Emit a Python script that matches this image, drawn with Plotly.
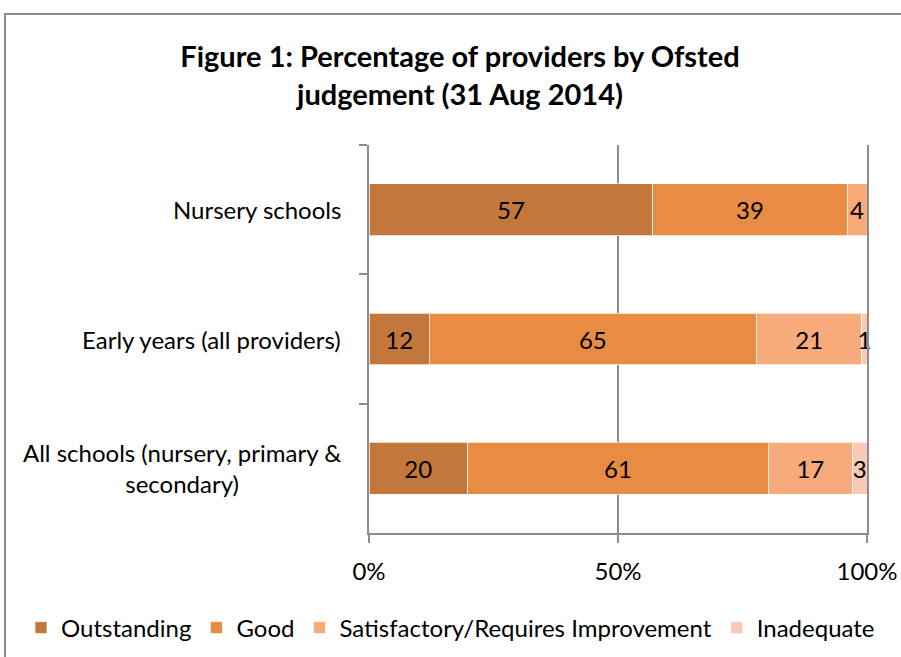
import plotly.graph_objects as go

categories = ["Nursery schools", "Early years (all providers)", "All schools (nursery, primary &<br>secondary)"]
series_names = ["Outstanding", "Good", "Satisfactory/Requires Improvement", "Inadequate"]
outstanding = [57, 12, 20]
good = [39, 65, 61]
satisfactory = [4, 21, 17]
inadequate = [0, 1, 3]
colors = ["#C4773A", "#E88C44", "#F7AA7A", "#F8CAB3"]
x_tick_vals = [0, 50, 100]
x_tick_text = ["0%", "50%", "100%"]

FONT = "Lato, 'Open Sans', sans-serif"
GRAY = "#8C8C8C"
FS = 24

fig = go.Figure()
for name, vals, col in zip(series_names, [outstanding, good, satisfactory, inadequate], colors):
    fig.add_trace(go.Bar(
        y=categories, x=vals, name=name, orientation="h",
        marker=dict(color=col, line=dict(color="rgba(255,255,255,0.7)", width=1)),
        text=[str(v) if v > 0 else "" for v in vals],
        textposition="inside", insidetextanchor="middle",
        textangle=0, constraintext="none", cliponaxis=False,
        textfont=dict(color="#000000", size=FS, family=FONT),
        width=0.4,
    ))

# category labels (centered multi-line), placed on the category axis
for c in categories:
    fig.add_annotation(x=-0.052, xref="paper", y=c, yref="y", text=c,
                       xanchor="right", yanchor="middle", align="center",
                       showarrow=False, font=dict(size=FS, family=FONT, color="#000"))

# outer chart border (top and left visible)
fig.add_shape(type="rect", xref="paper", yref="paper",
              x0=(5 - 369) / 498, x1=(910 - 369) / 498,
              y0=(533 - 680) / 388, y1=(533 - 14) / 388,
              line=dict(color="#8A8A8A", width=2), fillcolor="rgba(0,0,0,0)", layer="below")

fig.update_layout(
    barmode="stack", barnorm="percent",
    width=901, height=657,
    margin=dict(l=369, r=34, t=145, b=124, autoexpand=False),
    paper_bgcolor="white", plot_bgcolor="white",
    font=dict(family=FONT, color="#000"),
    title=dict(text="<b>Figure 1: Percentage of providers by Ofsted<br>judgement (31 Aug 2014)</b>",
               x=460 / 901, xanchor="center", y=1 - 67 / 657, yanchor="middle",
               font=dict(size=29, family=FONT, color="#000")),
    legend=dict(orientation="h", x=(21 - 369) / 498, xanchor="left", y=(533 - 628) / 388, yanchor="middle",
                font=dict(size=FS, family=FONT, color="#000"), traceorder="normal",
                itemwidth=30, tracegroupgap=0),
    showlegend=True,
)
fig.update_xaxes(range=[0, 100], tickvals=x_tick_vals, ticktext=x_tick_text,
                 showgrid=True, gridcolor=GRAY, gridwidth=2, zeroline=False,
                 showline=True, linecolor=GRAY, linewidth=2,
                 ticks="outside", ticklen=8, tickcolor=GRAY, tickwidth=2,
                 ticklabelstandoff=8, automargin=False,
                 tickfont=dict(size=FS, family=FONT, color="#000"))
fig.update_yaxes(autorange="reversed", showgrid=False, zeroline=False,
                 showline=True, mirror=True, linecolor=GRAY, linewidth=2,
                 ticks="outside", ticklen=8, tickcolor=GRAY, tickwidth=2,
                 tickson="boundaries", showticklabels=False, automargin=False)

fig.write_html("out.html")
